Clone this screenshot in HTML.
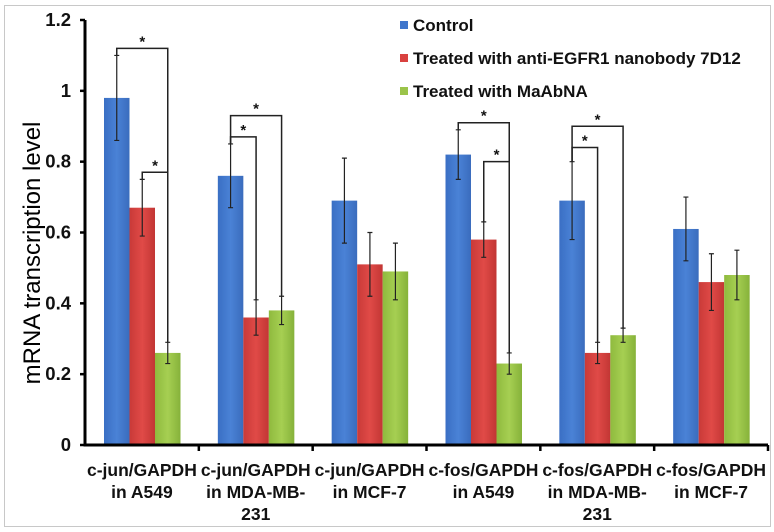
<!DOCTYPE html>
<html><head><meta charset="utf-8"><style>
body{margin:0;background:#fff;}
svg{display:block;font-family:"Liberation Sans",Arial,sans-serif;font-weight:bold;}
</style></head><body>
<svg id="chart" width="774" height="532" viewBox="0 0 774 532">
<defs>
<linearGradient id="gb" x1="0" x2="1"><stop offset="0" stop-color="#3a6fc4"/><stop offset="0.5" stop-color="#4a82d6"/><stop offset="1" stop-color="#3a6cbd"/></linearGradient>
<linearGradient id="gr" x1="0" x2="1"><stop offset="0" stop-color="#c93a38"/><stop offset="0.5" stop-color="#e04a47"/><stop offset="1" stop-color="#c23634"/></linearGradient>
<linearGradient id="gg" x1="0" x2="1"><stop offset="0" stop-color="#8fba3e"/><stop offset="0.5" stop-color="#a6cf52"/><stop offset="1" stop-color="#86b23a"/></linearGradient>
</defs>
<rect x="4.5" y="5.5" width="766" height="521" fill="none" stroke="#c8c8c8"/>
<g id="plot"></g>
</svg>
<script>
const categories=[["c-jun/GAPDH","in A549"],["c-jun/GAPDH","in MDA-MB-","231"],["c-jun/GAPDH","in MCF-7"],["c-fos/GAPDH","in A549"],["c-fos/GAPDH","in MDA-MB-","231"],["c-fos/GAPDH","in MCF-7"]];
const seriesNames=["Control","Treated with anti-EGFR1 nanobody 7D12","Treated with MaAbNA"];
const control=[0.98,0.76,0.69,0.82,0.69,0.61];
const controlErr=[0.12,0.09,0.12,0.07,0.11,0.09];
const nanobody=[0.67,0.36,0.51,0.58,0.26,0.46];
const nanobodyErr=[0.08,0.05,0.09,0.05,0.03,0.08];
const maabna=[0.26,0.38,0.49,0.23,0.31,0.48];
const maabnaErr=[0.03,0.04,0.08,0.03,0.02,0.07];
const yTicks=[0,0.2,0.4,0.6,0.8,1,1.2];
// significance brackets: [group, fromSeries, toSeries, level]
const brackets=[[0,0,2,1.12],[0,1,2,0.77],[1,0,2,0.93],[1,0,1,0.87],[3,0,2,0.91],[3,1,2,0.80],[4,0,2,0.90],[4,0,1,0.84]];

const NS="http://www.w3.org/2000/svg";
const g=document.getElementById('plot');
const x0=85,x1=768,y0=445,yTop=20,ymax=1.2;
const gw=(x1-x0)/categories.length,bw=25.5,pad=19;
const y=v=>y0-(v/ymax)*(y0-yTop);
const bx=(i,s)=>x0+i*gw+pad+s*bw;
const bc=(i,s)=>bx(i,s)+bw/2;
function el(t,a,txt){const e=document.createElementNS(NS,t);for(const k in a)e.setAttribute(k,a[k]);if(txt!==undefined)e.textContent=txt;g.appendChild(e);return e;}
const vals=[control,nanobody,maabna],errs=[controlErr,nanobodyErr,maabnaErr],fills=["url(#gb)","url(#gr)","url(#gg)"],solid=["#3f76cc","#d9413f","#9bc44a"];
const sk=["control","nanobody","maabna"];
for(let i=0;i<categories.length;i++){
 for(let s=0;s<3;s++){
  const v=vals[s][i],e=errs[s][i];
  const r=el('rect',{x:bx(i,s),y:y(v),width:bw,height:y0-y(v),fill:fills[s]});
  
  
  const c=bc(i,s);
  const eb=el('path',{d:`M${c},${y(v+e)}V${y(v-e)}M${c-2.5},${y(v+e)}H${c+2.5}M${c-2.5},${y(v-e)}H${c+2.5}`,stroke:'#222','stroke-width':1.2,fill:'none'});
  
  
 }
 const lines=categories[i];
 lines.forEach((ln,k)=>{
  const t=el('text',{x:x0+(i+0.5)*gw,y:476+k*22,'text-anchor':'middle','font-size':17.5,fill:'#111'},ln);
  
  
 });
}
brackets.forEach(b=>{
 const [i,a,c,lv]=b;
 const xa=bc(i,a),xc=bc(i,c),yb=y(lv);
 const ya=Math.max(yb,y(vals[a][i]+errs[a][i])),yc=y(vals[c][i]+errs[c][i]);
 const p=el('path',{d:`M${xa},${ya}V${yb}H${xc}V${yc}`,stroke:'#222','stroke-width':1.5,fill:'none'});
 
 
 const t=el('text',{x:(xa+xc)/2,y:yb-2,'text-anchor':'middle','font-size':15,fill:'#111'},'*');
 
 
});
const ax=el('path',{d:`M${x0},${yTop}V${y0}H${x1}`,stroke:'#000','stroke-width':3,fill:'none'});


yTicks.forEach(v=>{
 const tk=el('path',{d:`M${x0-5},${y(v)}H${x0}`,stroke:'#000','stroke-width':2.5});
 
 
 const t=el('text',{x:71,y:y(v)+6,'text-anchor':'end','font-size':18.5,fill:'#111'},String(v));
 
 
});
for(let i=1;i<=categories.length;i++){
 const tk=el('path',{d:`M${x0+i*gw},${y0}V${y0+6}`,stroke:'#000','stroke-width':2.5});
 
 
}
const yt=el('text',{transform:'translate(40,253) rotate(-90)','text-anchor':'middle','font-size':24,'font-weight':'normal',fill:'#000'},'mRNA transcription level');


seriesNames.forEach((n,s)=>{
 const cy=25+s*33;
 const r=el('rect',{x:400,y:cy-4,width:8,height:8,fill:solid[s]});
 
 
 const t=el('text',{x:413,y:cy+6,'font-size':17,fill:'#111'},n);
 
 
});
</script>
</body></html>
